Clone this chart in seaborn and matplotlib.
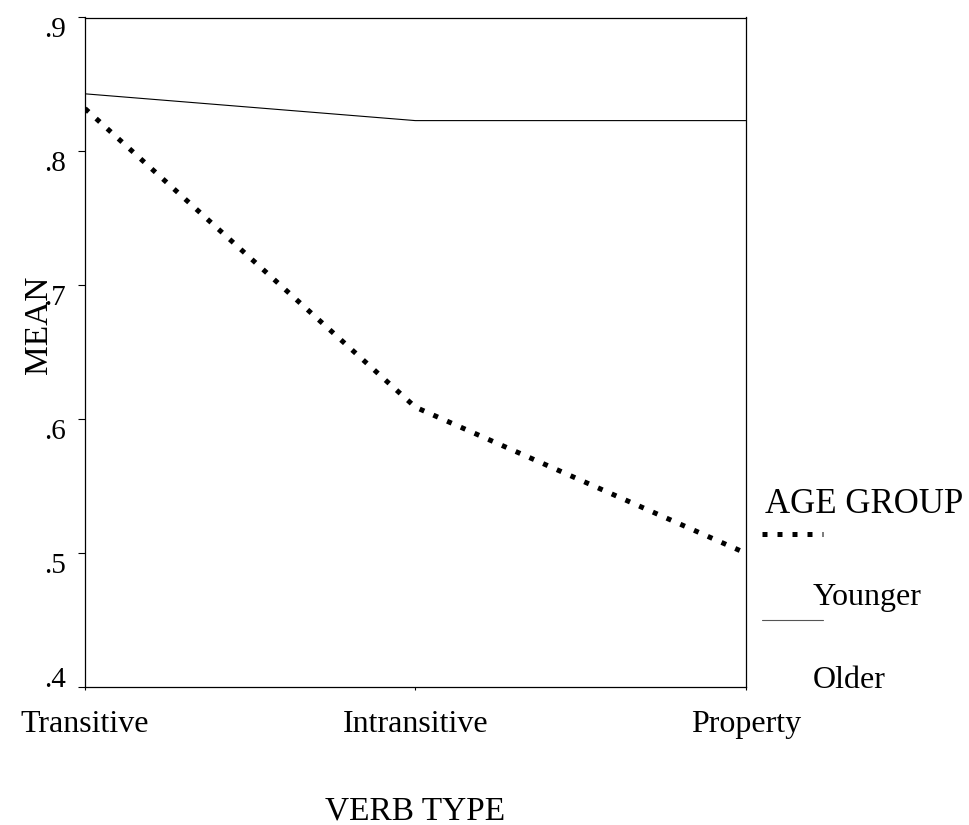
import matplotlib
matplotlib.use("Agg")
import matplotlib.pyplot as plt
import seaborn as sns
import pandas as pd
from matplotlib.lines import Line2D

# ---- data ----
verb_types = ["Transitive", "Intransitive", "Property"]
younger = [0.832, 0.609, 0.500]
older = [0.843, 0.823, 0.823]
y_ticks = [0.4, 0.5, 0.6, 0.7, 0.8, 0.9]
y_tick_labels = [".4", ".5", ".6", ".7", ".8", ".9"]

df = pd.DataFrame({
    "VERB TYPE": verb_types * 2,
    "MEAN": younger + older,
    "AGE GROUP": ["Younger"] * 3 + ["Older"] * 3,
})

sns.set_style("white")
plt.rcParams["font.family"] = ["Liberation Serif", "DejaVu Serif"]
plt.rcParams["text.color"] = "black"
plt.rcParams["xtick.color"] = "black"
plt.rcParams["ytick.color"] = "black"
plt.rcParams["axes.labelcolor"] = "black"

W, H = 970, 825
fig = plt.figure(figsize=(W / 100, H / 100), dpi=100)

def fx(x):
    return x / W

def fy(y):
    return 1 - y / H

ax = fig.add_axes([fx(85), fy(687), fx(745.7) - fx(85), fy(17.5) - fy(687)])

sns.lineplot(data=df[df["AGE GROUP"] == "Younger"], x="VERB TYPE", y="MEAN",
             ax=ax, color="black", linewidth=3.6, linestyle=(0, (1, 2)),
             legend=False)
sns.lineplot(data=df[df["AGE GROUP"] == "Older"], x="VERB TYPE", y="MEAN",
             ax=ax, color="black", linewidth=0.8, legend=False)

ax.set_xlim(0, 2)
ax.set_ylim(0.4, 0.9)
ax.set_xticks(range(len(verb_types)))
ax.set_xticklabels(verb_types, fontsize=23, color="black")
ax.set_yticks(y_ticks)
ax.set_yticklabels(y_tick_labels, fontsize=21, color="black")
ax.set_xlabel("")
ax.set_ylabel("")

for s in ax.spines.values():
    s.set_visible(True)
    s.set_color("black")
    s.set_linewidth(0.9)

ax.tick_params(axis="y", left=True, direction="out", length=5, width=0.8,
               color="black", pad=9)
ax.tick_params(axis="x", bottom=True, direction="out", length=2.5, width=0.8,
               color="black", pad=14)
for lab in ax.get_yticklabels():
    lab.set_verticalalignment("top")
ax.get_yticklabels()[0].set_verticalalignment("baseline")

# axis titles
fig.text(fx(415), fy(819), "VERB TYPE", fontsize=24, ha="center", va="baseline",
         color="black")
fig.text(fx(47), fy(325), "MEAN", fontsize=24, ha="center", va="baseline",
         rotation=90, rotation_mode="anchor", color="black")

# legend (drawn manually, SPSS-style layout)
fig.text(fx(765), fy(513), "AGE GROUP", fontsize=25, ha="left", va="baseline",
         color="black")
fig.add_artist(Line2D([fx(762), fx(823)], [fy(534), fy(534)], color="black",
                      linewidth=3.6, linestyle=(0, (1, 2)), transform=fig.transFigure))
fig.text(fx(813), fy(605), "Younger", fontsize=23, ha="left", va="baseline",
         color="black")
fig.add_artist(Line2D([fx(762), fx(823)], [fy(620), fy(620)], color="#555555",
                      linewidth=0.8, transform=fig.transFigure))
fig.text(fx(813), fy(688), "Older", fontsize=23, ha="left", va="baseline",
         color="black")

fig.savefig("out.png", dpi=100)
